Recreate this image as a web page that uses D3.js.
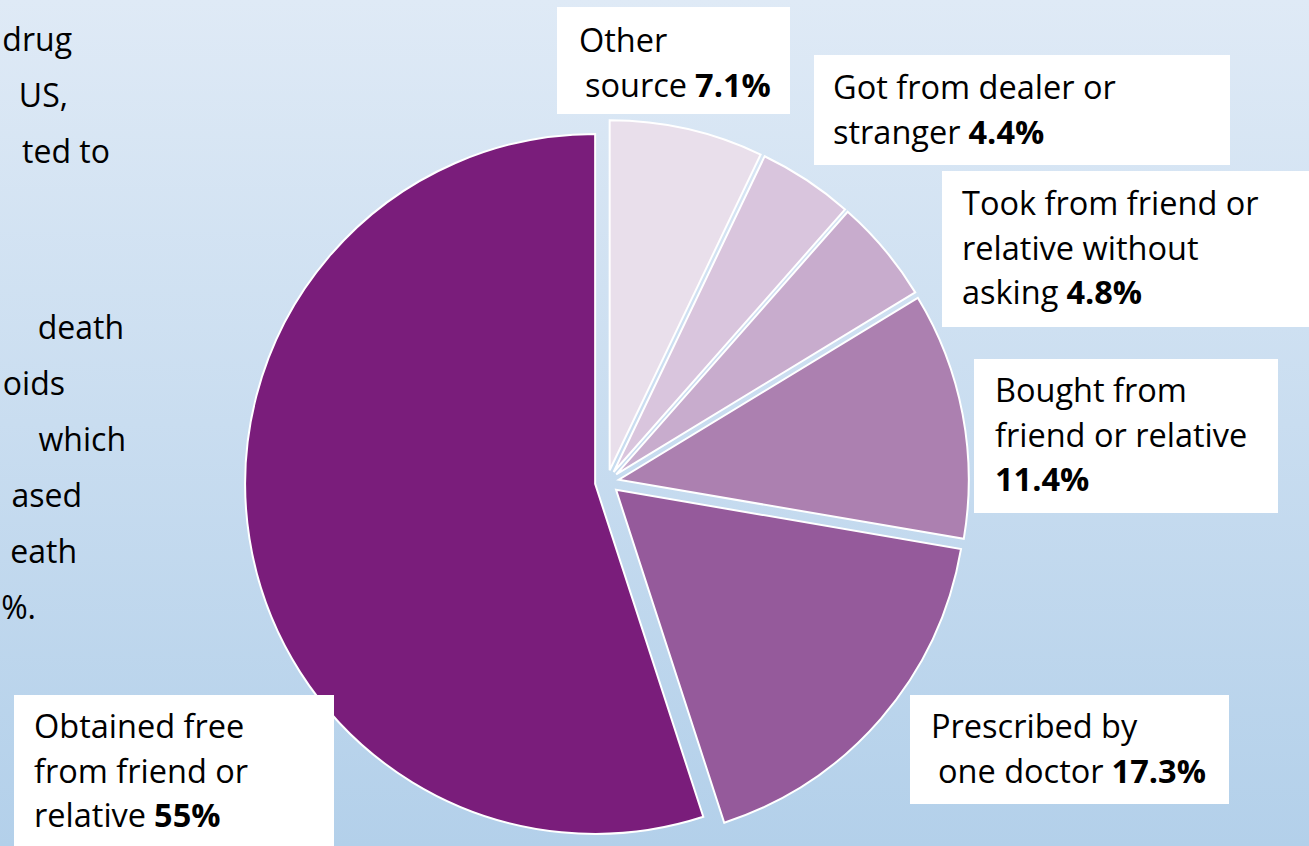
<!DOCTYPE html>
<html>
<head>
<meta charset="utf-8">
<script src="https://cdn.jsdelivr.net/npm/d3@7"></script>
<style>
  html, body { margin: 0; padding: 0; overflow: hidden; }
  svg { display: block; }
  text { font-family: "Open Sans", Lato, sans-serif; fill: #000; }
</style>
</head>
<body>
<script>
// ---------------- data ----------------
const categories = [
  "Other source",
  "Got from dealer or stranger",
  "Took from friend or relative without asking",
  "Bought from friend or relative",
  "Prescribed by one doctor",
  "Obtained free from friend or relative"
];
const values = [7.1, 4.4, 4.8, 11.4, 17.3, 55];
const valueLabels = ["7.1%", "4.4%", "4.8%", "11.4%", "17.3%", "55%"];
const labelLines = [
  ["Other", "source"],
  ["Got from dealer or", "stranger"],
  ["Took from friend or", "relative without", "asking"],
  ["Bought from", "friend or relative", ""],
  ["Prescribed by", "one doctor"],
  ["Obtained free", "from friend or", "relative"]
];
// visible fragments of the slide text cut off at the left edge
const sideText = ["drug", "US,", "ted to", "death", "oids", "which", "ased", "eath", "%."];

// ---------------- layout / style ----------------
const W = 1309, H = 846;
const colors = ["#e9dfeb", "#d9c5dd", "#c8accd", "#ac80b0", "#955a9b", "#7a1d7b"];
const center = [607, 482], radius = 350, explode = 12;
const boxes = [
  {x: 557, y: 7,   w: 233, h: 107, tx: [579, 585], by: 52},
  {x: 814, y: 55,  w: 416, h: 110, tx: [833, 833], by: 99},
  {x: 942, y: 171, w: 380, h: 156, tx: [962, 962, 962], by: 215},
  {x: 974, y: 359, w: 304, h: 154, tx: [995, 995, 995], by: 402},
  {x: 910, y: 695, w: 319, h: 109, tx: [931, 938], by: 738},
  {x: 14,  y: 695, w: 320, h: 160, tx: [34, 34, 34], by: 738}
];
const lineH = 44.5;
const labelSize = 32.5, sideSize = 32;
const sideRight = [72, 68, 110, 124, 65, 126, 82, 77, 36];
const sideBase  = [51, 107, 163, 339, 395, 451, 507, 563, 619];

const svg = d3.select("body").append("svg").attr("width", W).attr("height", H);

const defs = svg.append("defs");
const grad = defs.append("linearGradient").attr("id", "bg").attr("x1", 0).attr("y1", 0).attr("x2", 0).attr("y2", 1);
grad.append("stop").attr("offset", "0%").attr("stop-color", "#dfeaf6");
grad.append("stop").attr("offset", "100%").attr("stop-color", "#b3d0ea");
svg.append("rect").attr("width", W).attr("height", H).attr("fill", "url(#bg)");

// side text
svg.append("g").selectAll("text").data(sideText).join("text")
  .attr("x", (d, i) => sideRight[i]).attr("y", (d, i) => sideBase[i])
  .attr("text-anchor", "end").style("font-size", sideSize + "px").text(d => d);

// pie
const pie = d3.pie().sort(null).value(d => d).startAngle(0).endAngle(2 * Math.PI);
const arcs = pie(values);
const arc = d3.arc().innerRadius(0).outerRadius(radius);
svg.append("g").attr("transform", `translate(${center[0]},${center[1]})`)
  .selectAll("path").data(arcs).join("path")
  .attr("transform", d => {
    const m = (d.startAngle + d.endAngle) / 2;
    return `translate(${Math.sin(m) * explode},${-Math.cos(m) * explode})`;
  })
  .attr("d", arc)
  .attr("fill", (d, i) => colors[i])
  .attr("stroke", "#ffffff").attr("stroke-width", 2).attr("stroke-linejoin", "miter");

// label boxes
const lg = svg.append("g");
boxes.forEach((b, i) => {
  lg.append("rect").attr("x", b.x).attr("y", b.y).attr("width", b.w).attr("height", b.h).attr("fill", "#ffffff");
  const lines = labelLines[i];
  lines.forEach((ln, j) => {
    const t = lg.append("text").attr("x", b.tx[j]).attr("y", b.by + j * lineH).style("font-size", labelSize + "px");
    if (ln) t.append("tspan").text(ln);
    if (j === lines.length - 1) {
      t.append("tspan").attr("dx", ln ? 8 : 0).style("font-weight", "bold").text(valueLabels[i]);
    }
  });
});
</script>
</body>
</html>
